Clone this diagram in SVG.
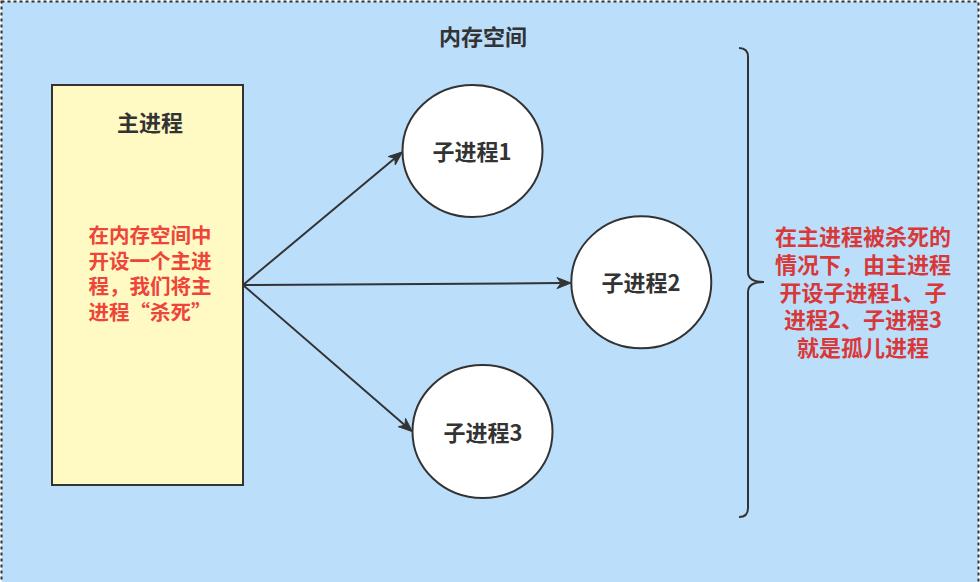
<svg xmlns="http://www.w3.org/2000/svg" width="980" height="582" viewBox="0 0 980 582">
<style>
text{font-family:"Noto Sans CJK SC","Noto Sans",sans-serif;font-weight:bold;text-anchor:middle}
.dark{fill:#333333;font-size:22px}
.redl{fill:#EF4439;font-size:20.5px}
.redr{fill:#D93838;font-size:22px}
.node{stroke:#333333;stroke-width:2}
.edge{stroke:#333333;stroke-width:2;fill:none}
.head{fill:#333333;stroke:#333333;stroke-width:1;stroke-linejoin:miter}
</style>
<g id="container">
<rect x="1.5" y="1.5" width="977" height="620" fill="#BBDEFB" stroke="#333333" stroke-width="2" stroke-dasharray="3 3"/>
<text class="dark" x="483" y="45">内存空间</text>
</g>
<g id="main">
<rect class="node" x="52" y="85" width="191" height="400" fill="#FFF9C4"/>
<text class="dark" x="150" y="131">主进程</text>
<text class="redl"><tspan x="150" y="243">在内存空间中</tspan><tspan x="150" y="269">开设一个主进</tspan><tspan x="150" y="294">程，我们将主</tspan><tspan x="150" y="320">进程“杀死”</tspan></text>
</g>
<g id="child1">
<ellipse class="node" cx="472.5" cy="151" rx="70" ry="66" fill="#FFFFFF"/>
<text class="dark" x="472" y="160">子进程1</text>
</g>
<g id="child2">
<ellipse class="node" cx="641.3" cy="282.3" rx="70" ry="66" fill="#FFFFFF"/>
<text class="dark" x="641" y="291">子进程2</text>
</g>
<g id="child3">
<ellipse class="node" cx="482.5" cy="431.5" rx="70" ry="66.5" fill="#FFFFFF"/>
<text class="dark" x="483" y="441">子进程3</text>
</g>
<g id="note">
<path class="edge" d="M739,48 Q748,48 748,57 L748,272 Q748,282 764,282 Q748,282 748,292 L748,508 Q748,517 739,517"/>
<text class="redr"><tspan x="863" y="245">在主进程被杀死的</tspan><tspan x="863" y="272.5">情况下，由主进程</tspan><tspan x="863" y="300.5">开设子进程1、子</tspan><tspan x="863" y="328">进程2、子进程3</tspan><tspan x="863" y="355.5">就是孤儿进程</tspan></text>
</g>
<g id="connectors">
<line class="edge" x1="243" y1="285" x2="394.8" y2="158.2"/>
<polygon class="head" points="402.5,151.8 395.28,164.99 394.82,158.21 388.22,156.55"/>
<line class="edge" x1="243" y1="285" x2="561" y2="283.1"/>
<polygon class="head" points="571,283 557,288.6 561,283.1 557,277.6"/>
<line class="edge" x1="243" y1="285" x2="404.9" y2="425.2"/>
<polygon class="head" points="412.5,431.7 398.32,426.7 404.94,425.16 405.52,418.38"/>
</g>
</svg>
